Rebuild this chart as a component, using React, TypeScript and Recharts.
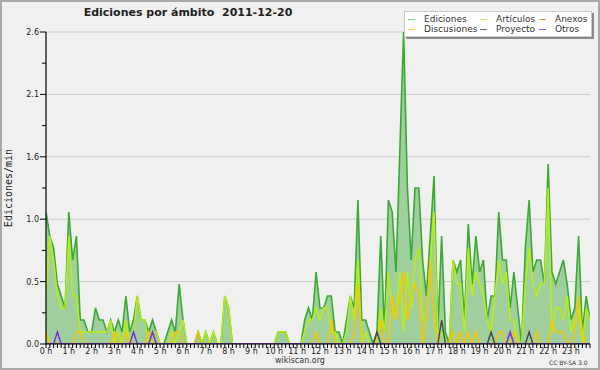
import React from "react";
import { ComposedChart, Area, Line, XAxis, YAxis, CartesianGrid } from "recharts";

// 10-minute slots, values in edits per minute
const ediciones = [
  1.1, 0.9, 0.8, 0.5, 0.4, 0.3, 1.1, 0.7, 0.9, 0.2, 0.2, 0.1,
  0.1, 0.3, 0.2, 0.2, 0.1, 0.2, 0.1, 0.2, 0.1, 0.4, 0.1, 0.2,
  0.4, 0.2, 0.2, 0.1, 0.2, 0.1, 0, 0, 0.1, 0.2, 0.1, 0.5,
  0.2, 0, 0, 0, 0.1, 0, 0.1, 0, 0.1, 0, 0, 0.4,
  0.3, 0, 0, 0, 0, 0, 0, 0, 0, 0, 0, 0,
  0, 0.1, 0.1, 0.1, 0, 0, 0, 0, 0.2, 0.3, 0.2, 0.6,
  0.3, 0.3, 0.4, 0.4, 0.1, 0.1, 0, 0.2, 0.4, 0.3, 1.2, 0.2,
  0.2, 0.1, 0, 0.1, 0.9, 0.1, 1.2, 1.1, 0.6, 1.6, 2.6, 1.3,
  0.7, 1.3, 1.3, 0.7, 0.4, 0.9, 1.4, 0.1, 0.9, 0.1, 0, 0.7,
  0.6, 0.7, 0.2, 1.0, 0.5, 0.9, 0.6, 0.7, 0.2, 0.4, 0.4, 1.1,
  0.7, 0.7, 0.3, 0.6, 0.3, 0, 0.8, 1.2, 0.6, 0.7, 0.7, 0.5,
  1.5, 0.6, 0.5, 0.6, 0.7, 0.5, 0.2, 0.3, 0.9, 0.1, 0.4, 0.2,
];

const articulos = [
  0.4, 0.9, 0.7, 0.4, 0.3, 0.3, 0.9, 0.4, 0.4, 0.1, 0.1, 0.1,
  0.1, 0.1, 0.1, 0.1, 0.1, 0.2, 0, 0.1, 0, 0.2, 0, 0.1,
  0.4, 0.2, 0.2, 0, 0.1, 0.1, 0, 0, 0, 0.1, 0, 0.1,
  0.2, 0, 0, 0, 0, 0, 0.1, 0, 0.1, 0, 0, 0.4,
  0.3, 0, 0, 0, 0, 0, 0, 0, 0, 0, 0, 0,
  0, 0.1, 0.1, 0.1, 0, 0, 0, 0, 0.1, 0.2, 0.2, 0.3,
  0.2, 0.3, 0.3, 0.1, 0.1, 0, 0, 0.1, 0.4, 0.2, 0.7, 0,
  0.1, 0, 0, 0, 0.3, 0.1, 0.6, 0.3, 0.2, 0.6, 0.1, 0.6,
  0.3, 0.7, 0.8, 0.2, 0.2, 0.7, 1.1, 0.1, 0.1, 0, 0, 0.7,
  0.5, 0.5, 0.1, 0.8, 0.4, 0.6, 0.5, 0.4, 0.2, 0.1, 0.4, 0.7,
  0.5, 0.6, 0.2, 0.2, 0, 0, 0.5, 0.8, 0.5, 0.4, 0.5, 0.5,
  1.3, 0.1, 0.3, 0.3, 0.2, 0.4, 0.1, 0.2, 0.3, 0, 0.3, 0.2,
];

const discusiones = [
  0.1, 0, 0, 0, 0, 0, 0, 0, 0.1, 0.1, 0, 0,
  0, 0, 0, 0, 0, 0, 0.1, 0, 0, 0.1, 0, 0,
  0, 0, 0, 0.1, 0, 0, 0, 0, 0, 0, 0.1, 0.1,
  0, 0, 0, 0, 0.1, 0, 0, 0, 0, 0, 0, 0,
  0, 0, 0, 0, 0, 0, 0, 0, 0, 0, 0, 0,
  0, 0, 0, 0, 0, 0, 0, 0, 0, 0, 0, 0.1,
  0, 0, 0, 0.2, 0, 0, 0, 0, 0, 0.1, 0.5, 0,
  0, 0, 0, 0, 0.2, 0, 0, 0.4, 0.2, 0.4, 0.6, 0.2,
  0.4, 0.5, 0.4, 0, 0.2, 0.7, 0.2, 0, 0, 0, 0, 0.1,
  0, 0.1, 0, 0.1, 0, 0.1, 0, 0, 0, 0, 0, 0.1,
  0.1, 0, 0, 0.1, 0, 0, 0, 0, 0, 0.1, 0, 0,
  0, 0.2, 0.1, 0.1, 0.1, 0, 0, 0.1, 0.4, 0.1, 0, 0,
];

const anexos = [
  0, 0, 0, 0, 0, 0, 0, 0, 0, 0, 0, 0,
  0, 0, 0, 0, 0, 0, 0, 0, 0, 0, 0, 0,
  0, 0, 0, 0, 0, 0, 0, 0, 0, 0, 0, 0,
  0, 0, 0, 0, 0, 0, 0, 0, 0, 0, 0, 0,
  0, 0, 0, 0, 0, 0, 0, 0, 0, 0, 0, 0,
  0, 0, 0, 0, 0, 0, 0, 0, 0, 0, 0, 0,
  0, 0, 0, 0, 0, 0, 0, 0, 0, 0, 0, 0,
  0, 0, 0, 0, 0, 0, 0, 0, 0, 0, 0, 0,
  0, 0, 0, 0, 0, 0, 0, 0, 0, 0, 0, 0,
  0, 0, 0, 0, 0, 0, 0, 0, 0, 0, 0, 0,
  0, 0, 0, 0, 0, 0, 0, 0, 0, 0, 0, 0,
  0, 0, 0, 0, 0, 0, 0, 0, 0, 0, 0, 0,
];

const proyecto = [
  0, 0, 0, 0, 0, 0, 0, 0, 0, 0, 0, 0,
  0, 0, 0, 0, 0, 0, 0, 0, 0, 0, 0, 0,
  0, 0, 0, 0, 0, 0, 0, 0, 0, 0, 0, 0,
  0, 0, 0, 0, 0, 0, 0, 0, 0, 0, 0, 0,
  0, 0, 0, 0, 0, 0, 0, 0, 0, 0, 0, 0,
  0, 0, 0, 0, 0, 0, 0, 0, 0, 0, 0, 0,
  0, 0, 0, 0, 0, 0, 0, 0, 0, 0, 0, 0,
  0, 0, 0, 0.1, 0, 0, 0, 0, 0, 0, 0, 0,
  0, 0, 0, 0, 0, 0, 0, 0, 0.2, 0, 0, 0,
  0, 0, 0, 0, 0, 0, 0, 0, 0, 0.1, 0, 0,
  0, 0, 0, 0, 0, 0, 0, 0.1, 0, 0, 0, 0,
  0, 0, 0, 0, 0, 0, 0, 0, 0, 0, 0, 0,
];

const otros = [
  0, 0, 0, 0.1, 0, 0, 0, 0, 0, 0, 0, 0,
  0, 0, 0, 0, 0, 0, 0, 0, 0, 0, 0, 0.1,
  0, 0, 0, 0, 0.1, 0, 0, 0, 0, 0, 0, 0,
  0, 0, 0, 0, 0, 0, 0, 0, 0, 0, 0, 0,
  0, 0, 0, 0, 0, 0, 0, 0, 0, 0, 0, 0,
  0, 0, 0, 0, 0, 0, 0, 0, 0, 0, 0, 0,
  0, 0, 0, 0, 0, 0, 0, 0, 0, 0, 0, 0,
  0, 0, 0, 0, 0, 0, 0, 0, 0, 0, 0, 0,
  0, 0, 0, 0, 0, 0, 0, 0, 0, 0, 0, 0,
  0, 0, 0, 0, 0, 0, 0, 0, 0, 0, 0, 0,
  0, 0, 0.1, 0, 0, 0, 0, 0, 0, 0, 0, 0,
  0, 0, 0, 0, 0, 0, 0, 0, 0, 0, 0, 0,
];

const hourLabels = [
  "0 h", "1 h", "2 h", "3 h", "4 h", "5 h", "6 h", "7 h", "8 h", "9 h", "10 h", "11 h",
  "12 h", "13 h", "14 h", "15 h", "16 h", "17 h", "18 h", "19 h", "20 h", "21 h", "22 h", "23 h",
];
const SLOTS_PER_HOUR = 6;

const yMajorTicks = [0, 0.52, 1.04, 1.56, 2.08, 2.6];
const yMajorLabels = ["0.0", "0.5", "1.0", "1.6", "2.1", "2.6"];
const yMinorTicks = [0.26, 0.78, 1.3, 1.82, 2.34];

const title = "Ediciones por ámbito  2011-12-20";
const yTitle = "Ediciones/min";

const COLORS = {
  ediciones: "#3aaa35",
  edicionesFill: "#a0cf9e",
  articulos: "#b9ee12",
  anexos: "#ff7f3f",
  discusiones: "#f7c600",
  proyecto: "#4a4a4a",
  otros: "#7b2fe0",
};

const legendItems = [
  { name: "Ediciones", color: "#7fcf7f", col: 0, row: 0 },
  { name: "Artículos", color: "#c8ee60", col: 1, row: 0 },
  { name: "Anexos", color: "#ff8a55", col: 2, row: 0 },
  { name: "Discusiones", color: "#ffcc44", col: 0, row: 1 },
  { name: "Proyecto", color: "#666666", col: 1, row: 1 },
  { name: "Otros", color: "#9955ee", col: 2, row: 1 },
];

const data = ediciones.map((v, i) => ({
  slot: i,
  ediciones: v,
  articulos: articulos[i],
  discusiones: discusiones[i],
  anexos: anexos[i],
  proyecto: proyecto[i],
  otros: otros[i],
}));
const slotTicks = data.map((d) => d.slot);
const yAllTicks = [...yMajorTicks, ...yMinorTicks];

const FONT = "'DejaVu Sans', sans-serif";

const XTick = (props: any) => {
  const { x, y, payload } = props;
  const v = payload.value as number;
  const isHour = v % SLOTS_PER_HOUR === 0;
  return (
    <g>
      <line x1={x} x2={x} y1={y} y2={y + 4} stroke="#000" strokeWidth={1} />
      {isHour && (
        <text x={x} y={y + 9.5} textAnchor="middle" fontSize={8} fill="#222" fontFamily={FONT}>
          {hourLabels[v / SLOTS_PER_HOUR]}
        </text>
      )}
    </g>
  );
};

const YTick = (props: any) => {
  const { x, y, payload } = props;
  const idx = yMajorTicks.indexOf(payload.value);
  const major = idx >= 0;
  return (
    <g>
      <line x1={x - (major ? 6 : 4)} x2={x} y1={y} y2={y} stroke="#000" strokeWidth={1} />
      {major && (
        <text x={x - 7} y={y + 3} textAnchor="end" fontSize={8} fill="#222" fontFamily={FONT}>
          {yMajorLabels[idx]}
        </text>
      )}
    </g>
  );
};

const colX = [408, 480, 539];
const rowY = [19.5, 29.5];

export default function App() {
  return (
    <div
      style={{
        position: "absolute",
        left: 0,
        top: 0,
        width: 600,
        height: 370,
        background: "#f0f0f0",
        overflow: "hidden",
        fontFamily: FONT,
      }}
    >
      <ComposedChart
        width={600}
        height={370}
        data={data}
        margin={{ top: 32, right: 10, bottom: 0, left: 6 }}
      >
        <CartesianGrid
          horizontal={true}
          vertical={false}
          horizontalValues={yMajorTicks}
          stroke="#cccccc"
          strokeWidth={1}
        />
        <Area
          dataKey="ediciones"
          type="linear"
          stroke={COLORS.ediciones}
          strokeWidth={1.6}
          fill={COLORS.edicionesFill}
          fillOpacity={1}
          dot={false}
          activeDot={false}
          isAnimationActive={false}
        />
        <Line dataKey="articulos" type="linear" stroke={COLORS.articulos} strokeWidth={1.5} dot={false} activeDot={false} isAnimationActive={false} />
        <Line dataKey="anexos" type="linear" stroke={COLORS.anexos} strokeWidth={1.5} dot={false} activeDot={false} isAnimationActive={false} />
        <Line dataKey="discusiones" type="linear" stroke={COLORS.discusiones} strokeWidth={1.5} dot={false} activeDot={false} isAnimationActive={false} />
        <Line dataKey="proyecto" type="linear" stroke={COLORS.proyecto} strokeWidth={1.5} dot={false} activeDot={false} isAnimationActive={false} />
        <Line dataKey="otros" type="linear" stroke={COLORS.otros} strokeWidth={1.5} dot={false} activeDot={false} isAnimationActive={false} />
        <XAxis
          dataKey="slot"
          type="number"
          domain={[0, 143]}
          ticks={slotTicks}
          interval={0}
          tick={<XTick />}
          tickLine={false}
          tickSize={0}
          tickMargin={0}
          height={26}
          axisLine={{ stroke: "#000", strokeWidth: 1 }}
          allowDataOverflow
        />
        <YAxis
          type="number"
          domain={[0, 2.6]}
          ticks={yAllTicks}
          interval={0}
          tick={<YTick />}
          tickLine={false}
          tickSize={0}
          tickMargin={0}
          width={40}
          axisLine={{ stroke: "#000", strokeWidth: 1.2 }}
          allowDataOverflow
        />
      </ComposedChart>

      <div
        style={{
          position: "absolute",
          left: 0,
          width: 376,
          top: 6,
          textAlign: "center",
          fontSize: 11,
          fontWeight: "bold",
          color: "#222",
          whiteSpace: "pre",
          lineHeight: "14px",
        }}
      >
        {title}
      </div>

      <div
        style={{
          position: "absolute",
          left: 9 - 50,
          top: 188 - 7,
          width: 100,
          height: 14,
          lineHeight: "14px",
          textAlign: "center",
          fontSize: 10,
          fontFamily: "'DejaVu Sans Mono', monospace",
          color: "#222",
          transform: "rotate(-90deg)",
        }}
      >
        {yTitle}
      </div>

      <div
        style={{
          position: "absolute",
          left: 404,
          top: 11,
          width: 188,
          height: 26,
          background: "#ffffff",
          border: "1px solid #c8c8c8",
          boxSizing: "border-box",
          boxShadow: "2px 2px 0 #8a8a8a",
        }}
      />
      {legendItems.map((it) => (
        <React.Fragment key={it.name}>
          <div
            style={{
              position: "absolute",
              left: colX[it.col],
              top: rowY[it.row] - 0.5,
              width: 7,
              height: 1,
              background: it.color,
            }}
          />
          <div
            style={{
              position: "absolute",
              left: colX[it.col] + 16,
              top: rowY[it.row] - 6,
              fontSize: 9,
              lineHeight: "11px",
              color: "#333",
              whiteSpace: "nowrap",
            }}
          >
            {it.name}
          </div>
        </React.Fragment>
      ))}

      <div
        style={{
          position: "absolute",
          left: 250,
          width: 100,
          top: 355,
          textAlign: "center",
          fontSize: 8,
          lineHeight: "11px",
          color: "#333",
        }}
      >
        wikiscan.org
      </div>
      <div
        style={{
          position: "absolute",
          left: 549,
          top: 358,
          fontSize: 6,
          lineHeight: "9px",
          color: "#333",
          whiteSpace: "nowrap",
        }}
      >
        CC BY-SA 3.0
      </div>

      <div
        style={{
          position: "absolute",
          left: 0,
          top: 0,
          width: 600,
          height: 370,
          boxSizing: "border-box",
          border: "2px solid #a9a9a9",
          pointerEvents: "none",
        }}
      />
    </div>
  );
}
